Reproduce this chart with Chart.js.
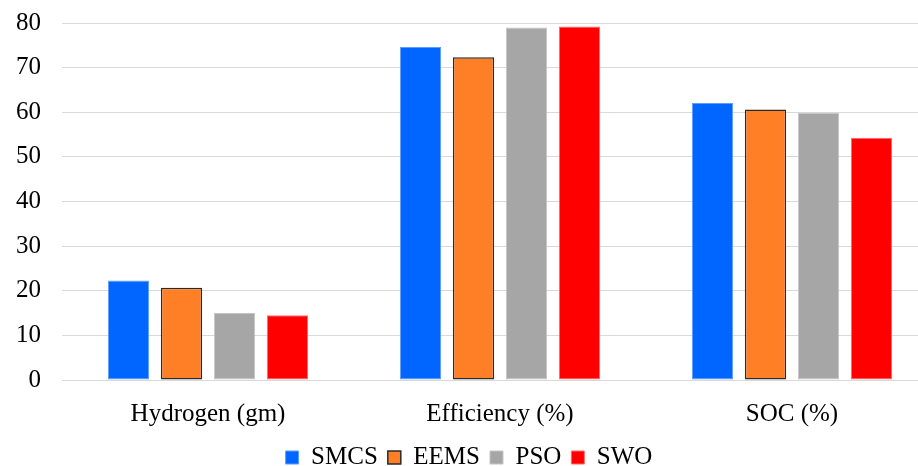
<!DOCTYPE html>
<html>
<head>
<meta charset="utf-8">
<script src="https://cdn.jsdelivr.net/npm/chart.js@4.4.1/dist/chart.umd.min.js"></script>
<style>
  html, body { margin: 0; padding: 0; background: #fff; overflow: hidden; }
  #wrap { position: relative; width: 968px; height: 498px; margin-top: -13px; }
</style>
</head>
<body>
<div id="wrap"><canvas id="c"></canvas></div>
<script>
// Categories and per-method values
const categories = ['Hydrogen (gm)', 'Efficiency (%)', 'SOC (%)'];
const smcs = [22.3, 74.6, 62.1];
const eems = [20.7, 72.3, 60.6];
const pso  = [15.0, 79.0, 59.9];
const swo  = [14.5, 79.2, 54.3];
const yTicks = [0, 10, 20, 30, 40, 50, 60, 70, 80];

const serif = "Liberation Serif";
const fontSize = 25;

const series = [
  { label: 'SMCS', data: smcs, backgroundColor: '#0066FF', borderColor: '#5c9cff', borderWidth: 1 },
  { label: 'EEMS', data: eems, backgroundColor: '#FF7F27', borderColor: '#2b2b2b', borderWidth: 1.5 },
  { label: 'PSO',  data: pso,  backgroundColor: '#A6A6A6', borderColor: '#c4c4c4', borderWidth: 1 },
  { label: 'SWO',  data: swo,  backgroundColor: '#FF0000', borderColor: '#ff6b6b', borderWidth: 1 }
];

// Pull the bottom legend a few pixels closer to the category labels
const legendNudge = {
  id: 'legendNudge',
  afterLayout(chart) {
    const lg = chart.legend;
    if (lg) { lg.top -= 5; lg.bottom -= 5; }
  }
};

new Chart(document.getElementById('c'), {
  type: 'bar',
  data: {
    labels: categories,
    datasets: series.map(s => Object.assign({
      categoryPercentage: 0.726,
      barPercentage: 0.78,
      borderSkipped: false
    }, s))
  },
  plugins: [legendNudge],
  options: {
    responsive: true,
    maintainAspectRatio: false,
    animation: false,
    layout: { padding: { top: 0, right: 30, bottom: 0, left: 0 } },
    plugins: {
      tooltip: { enabled: false },
      legend: {
        position: 'bottom',
        labels: {
          font: { family: serif, size: fontSize },
          color: '#000',
          boxWidth: 13,
          boxHeight: 13,
          padding: 10
        }
      }
    },
    scales: {
      x: {
        grid: { display: false },
        border: { display: false },
        ticks: { font: { family: serif, size: fontSize }, color: '#000', padding: 11 }
      },
      y: {
        min: 0,
        max: 80,
        afterBuildTicks: s => { s.ticks = yTicks.map(v => ({ value: v })); },
        afterFit: s => { s.width = 62; },
        grid: { color: '#d9d9d9', lineWidth: 1, drawTicks: false },
        border: { display: false },
        ticks: { font: { family: serif, size: fontSize }, color: '#000', padding: 21 }
      }
    }
  }
});
</script>
</body>
</html>
